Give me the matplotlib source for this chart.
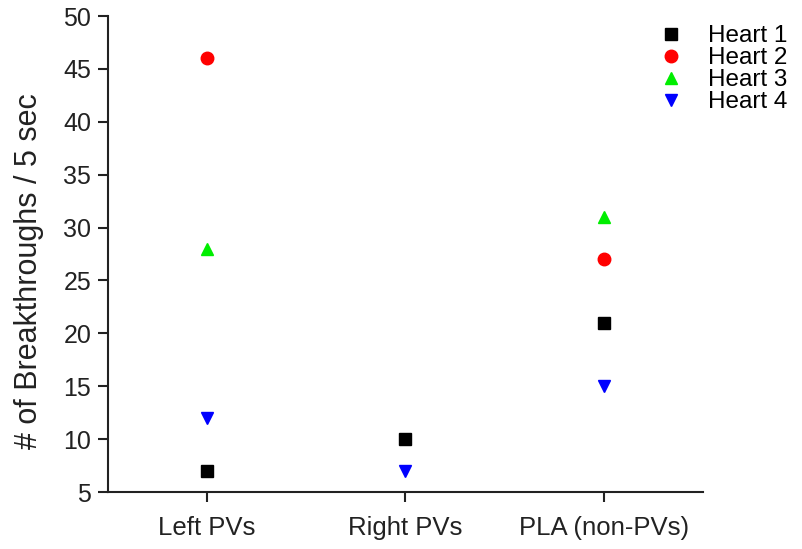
import matplotlib
matplotlib.use("Agg")
import matplotlib.pyplot as plt
import numpy as np

categories = ["Left PVs", "Right PVs", "PLA (non-PVs)"]
series_names = ["Heart 1", "Heart 2", "Heart 3", "Heart 4"]
heart1 = [7, 10, 21]
heart2 = [46, None, 27]
heart3 = [28, None, 31]
heart4 = [12, 7, 15]
yticks = [5, 10, 15, 20, 25, 30, 35, 40, 45, 50]

plt.rcParams['font.family'] = ['Liberation Sans', 'DejaVu Sans']

fig = plt.figure(figsize=(8.03, 5.49), dpi=100)
ax = fig.add_axes([108/803, 1 - 492/549, (703-108)/803, (492-16)/549])

styles = [("s", "black"), ("o", "red"), ("^", "#00ee00"), ("v", "blue")]
for name, vals, (m, c) in zip(series_names, [heart1, heart2, heart3, heart4], styles):
    xs = [i for i, v in enumerate(vals) if v is not None]
    ys = [v for v in vals if v is not None]
    ax.plot(xs, ys, linestyle="none", marker=m, color=c, markersize=9, label=name, clip_on=False)

ax.set_xlim(-0.5, 2.5)
ax.set_ylim(5, 50)
ax.set_yticks(yticks)
ax.set_xticks(range(len(categories)))
ax.set_xticklabels(categories)
ax.spines['top'].set_visible(False)
ax.spines['right'].set_visible(False)
for s in ['left', 'bottom']:
    ax.spines[s].set_linewidth(1.5)
    ax.spines[s].set_color('#222222')
ax.tick_params(axis='both', width=1.5, length=7, color='#222222', labelcolor='#222222')
ax.tick_params(axis='y', labelsize=18, pad=5)
ax.tick_params(axis='x', labelsize=18.5, pad=10)
ax.set_ylabel("# of Breakthroughs / 5 sec", fontsize=22, color='#222222')
ax.yaxis.set_label_coords(-0.108, 0.464)

leg = ax.legend(loc='upper left', bbox_to_anchor=(655/803, 1 - 25/549), bbox_transform=fig.transFigure,
                frameon=False, fontsize=17.5, handletextpad=0.9, labelspacing=0.0, handlelength=1.3,
                borderaxespad=0, borderpad=0)

fig.savefig("out.png", dpi=100)
